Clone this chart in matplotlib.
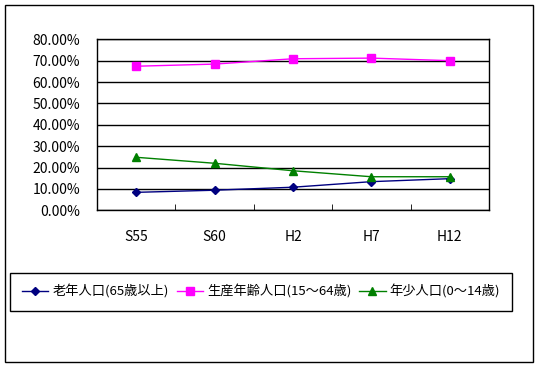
import matplotlib; matplotlib.use('Agg')
import matplotlib.pyplot as plt
from matplotlib.patches import Rectangle
from matplotlib.ticker import FixedLocator, PercentFormatter

plt.rcParams['font.family'] = ['Noto Sans CJK JP', 'DejaVu Sans']

# data (share of population, %)
years   = ['S55', 'S60', 'H2', 'H7', 'H12']
elderly = [8.4, 9.4, 10.8, 13.4, 14.8]     # 老年人口(65歳以上)
working = [67.4, 68.4, 70.9, 71.2, 70.0]   # 生産年齢人口(15～64歳)
young   = [24.8, 22.0, 18.5, 15.7, 15.7]   # 年少人口(0～14歳)
labels  = ['老年人口(65歳以上)', '生産年齢人口(15～64歳)', '年少人口(0～14歳)']

W, H = 539, 367
fig = plt.figure(figsize=(W/100, H/100), dpi=100)
fig.patch.set_facecolor('white')

# outer chart frame
fig.add_artist(Rectangle((5/W, 1-362/H), 528/W, 357/H, transform=fig.transFigure,
                         fill=False, edgecolor='black', lw=1))

ax = fig.add_axes([97/W, 1-210.3/H, 392/W, 171/H])
x = range(len(years))
ax.plot(x, elderly, color='#000080', marker='D', ms=4, lw=1, label=labels[0])
ax.plot(x, working, color='#FF00FF', marker='s', ms=6, lw=1, label=labels[1])
ax.plot(x, young, color='#008000', marker='^', ms=6, lw=1, label=labels[2])

ax.set_xlim(-0.5, 4.5); ax.set_ylim(0, 80)
ax.set_yticks(range(0, 81, 10))
ax.yaxis.set_major_formatter(PercentFormatter(decimals=2))
ax.set_xticks(list(x)); ax.set_xticklabels(years)
ax.xaxis.set_minor_locator(FixedLocator([0.5, 1.5, 2.5, 3.5]))
ax.tick_params(axis='x', which='major', length=0, pad=14, labelsize=10)
ax.tick_params(axis='x', which='minor', direction='in', length=4, color='black')
ax.tick_params(axis='y', length=0, pad=12, labelsize=10)
ax.grid(axis='y', color='black', lw=1)
ax.set_axisbelow(True)
for s in ax.spines.values():
    s.set_color('black'); s.set_linewidth(1)

fig.legend(loc='center', ncol=3, mode='expand',
           bbox_to_anchor=(10/W, 1-311/H, 502/W, 38/H),
           fancybox=False, edgecolor='black', framealpha=1, fontsize=9.5,
           handlelength=2.0, borderpad=0.9, borderaxespad=0,
           handletextpad=0.3, columnspacing=1.0)

plt.savefig('out.png', dpi=100)
